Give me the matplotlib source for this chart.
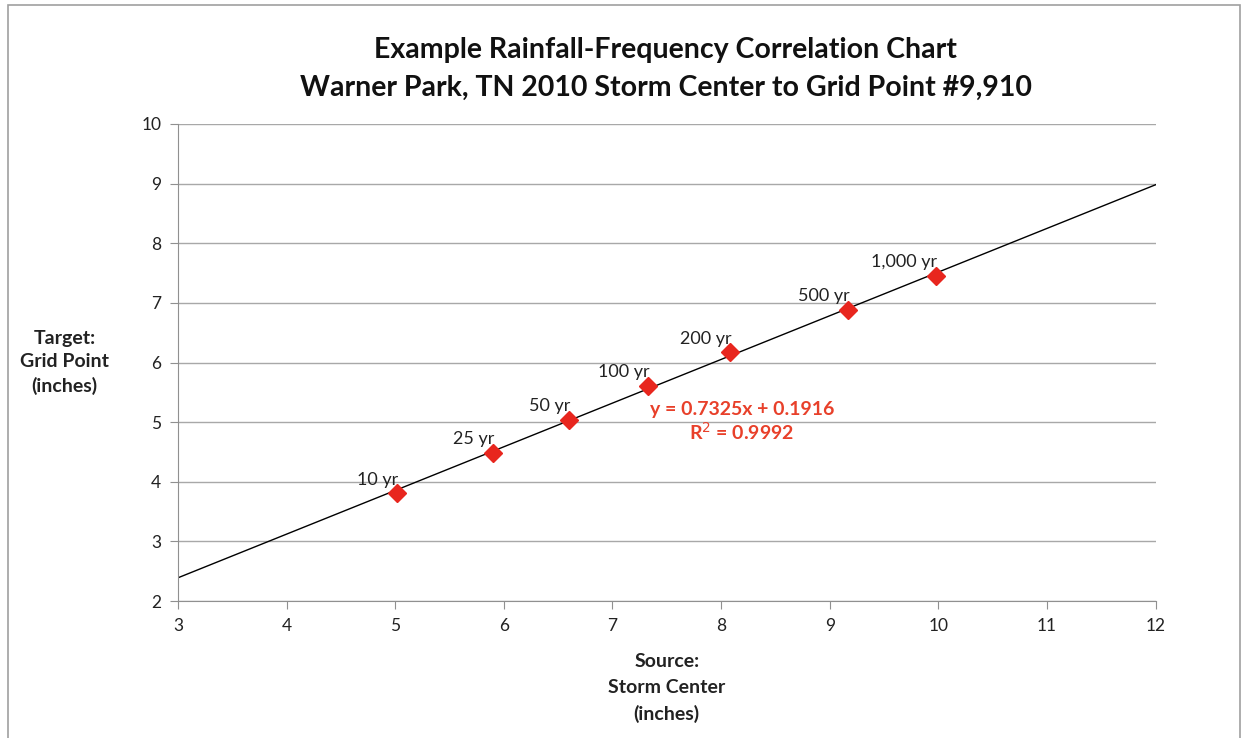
import matplotlib.pyplot as plt
from matplotlib.patches import Rectangle

plt.rcParams['font.family'] = ['Lato', 'DejaVu Sans']

# Rainfall depths (inches) for each return period
periods = ["10 yr", "25 yr", "50 yr", "100 yr", "200 yr", "500 yr", "1,000 yr"]
source_in = [5.02, 5.90, 6.60, 7.33, 8.08, 9.17, 9.98]
target_in = [3.81, 4.49, 5.04, 5.61, 6.17, 6.88, 7.45]

# Linear trendline shown on the chart
slope = 0.7325
intercept = 0.1916
r_squared = 0.9992

fig = plt.figure(figsize=(12.44, 7.38), dpi=100)
ax = fig.add_axes([0.143, 0.1856, 0.786, 0.6464])

# light frame around the whole chart
fig.patches.append(Rectangle((8 / 1244, -0.02), 1232 / 1244, 1.02 - 5 / 738,
                             transform=fig.transFigure, fill=False,
                             edgecolor='#a0a0a0', linewidth=1.2))

trend_x = [3, 12]
trend_y = [slope * x + intercept for x in trend_x]
ax.plot(trend_x, trend_y, color='black', linewidth=1.0, zorder=2)

ax.plot(source_in, target_in, linestyle='none', marker='D', markersize=9,
        color='#e8261e', markeredgecolor='#e8261e', zorder=3)

for label, x, y in zip(periods, source_in, target_in):
    ax.annotate(label, (x, y), xytext=(1, 4), textcoords='offset points',
                ha='right', va='bottom', fontsize=13, color='#222222')

ax.text(8.19, 5.0, f"y = {slope}x + {intercept}\nR$^2$ = {r_squared}",
        ha='center', va='center', fontsize=14, fontweight='bold',
        color='#e8402a', linespacing=1.15)

ax.set_xlim(3, 12)
ax.set_ylim(2, 10)
ax.set_xticks(range(3, 13))
ax.set_yticks(range(2, 11))
ax.yaxis.grid(True, color='#a8a8a8', linewidth=1.0)
ax.set_axisbelow(True)
for side in ['top', 'right']:
    ax.spines[side].set_visible(False)
for side in ['left', 'bottom']:
    ax.spines[side].set_color('#909090')
ax.tick_params(axis='both', colors='#909090', labelcolor='#222222',
               labelsize=12.5, length=6, direction='out', pad=6)

ax.set_xlabel("Source:\nStorm Center\n(inches)", fontsize=14,
              fontweight='bold', color='#222222', labelpad=14, linespacing=1.6)
ax.set_ylabel("Target:\nGrid Point\n(inches)", fontsize=14,
              fontweight='bold', color='#222222', rotation=0,
              linespacing=1.45, va='center', ha='center')
ax.yaxis.set_label_coords(-0.116, 0.5)

fig.text(0.535, 0.932, "Example Rainfall-Frequency Correlation Chart",
         ha='center', va='center', fontsize=20.5, fontweight='bold', color='#111111')
fig.text(0.535, 0.881, "Warner Park, TN 2010 Storm Center to Grid Point #9,910",
         ha='center', va='center', fontsize=20.5, fontweight='bold', color='#111111')

fig.savefig("out.png", dpi=100)
